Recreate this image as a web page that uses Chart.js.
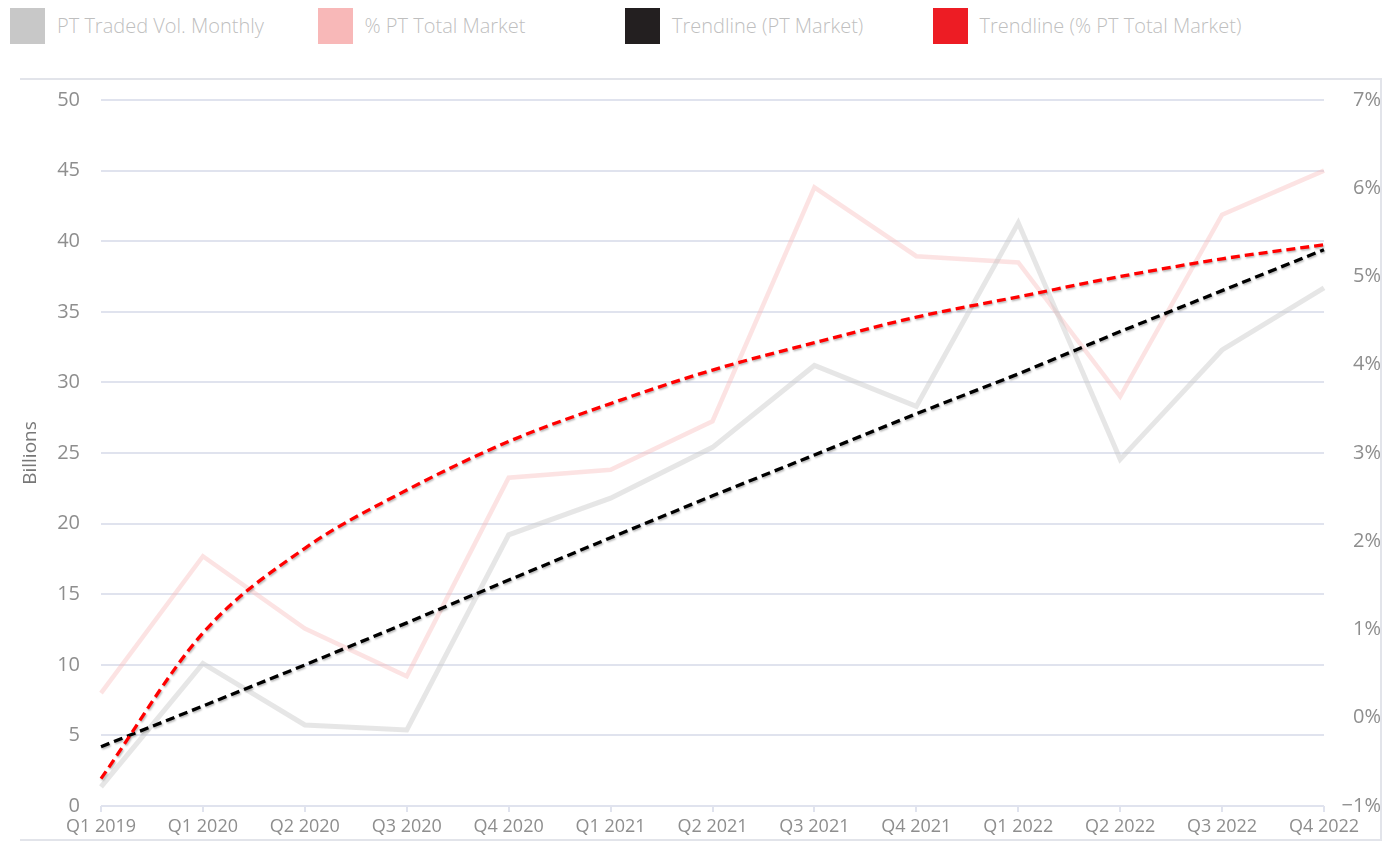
<!DOCTYPE html>
<html>
<head>
<meta charset="utf-8">
<script src="https://cdn.jsdelivr.net/npm/chart.js@4.4.1/dist/chart.umd.min.js"></script>
<style>
  html, body { margin: 0; padding: 0; background: #fff; }
  body { width: 1399px; height: 841px; position: relative; overflow: hidden; font-family: "Open Sans", "Noto Sans", sans-serif; }
  #frame { position: absolute; left: 20px; top: 78px; width: 1360px; height: 759px;
           border-top: 2px solid #e2e4ea; border-right: 2px solid #e2e4ea; border-bottom: 2px solid #e2e4ea; }
  #legend { position: absolute; left: 0; top: 0; width: 1399px; height: 60px; }
  .item { position: absolute; top: 8px; height: 36px; }
  .box { position: absolute; left: 0; top: 0; width: 35px; height: 36px; }
  .txt { position: absolute; left: 47px; top: 0; line-height: 36px; font-size: 20px; font-weight: 300;
         color: #bfbfbf; white-space: nowrap; }
  #wrap { position: absolute; left: 0; top: 0; width: 1386px; height: 841px; }
</style>
</head>
<body>
<div id="frame"></div>
<div id="legend"></div>
<div id="wrap"><canvas id="chart"></canvas></div>
<script>
// categories
const quarters = ['Q1 2019', 'Q1 2020', 'Q2 2020', 'Q3 2020', 'Q4 2020', 'Q1 2021', 'Q2 2021',
                  'Q3 2021', 'Q4 2021', 'Q1 2022', 'Q2 2022', 'Q3 2022', 'Q4 2022'];

// PT traded volume, billions (left axis)
const ptVolume = [1.36, 10.1, 5.74, 5.38, 19.2, 21.8, 25.4, 31.2, 28.3, 41.3, 24.55, 32.3, 36.7];
// % of total market (right axis)
const ptShare = [0.28, 1.83, 1.01, 0.47, 2.72, 2.81, 3.36, 6.01, 5.23, 5.16, 3.64, 5.70, 6.20];
// trendline (billions)
const ptTrend = [4.2, 7.08, 9.99, 12.97, 16.0, 19.0, 21.97, 24.86, 27.78, 30.6, 33.6, 36.5, 39.4];
// trendline (%)
const shareTrend = [-0.69, 0.96, 1.92, 2.58, 3.13, 3.56, 3.94, 4.25, 4.54, 4.77, 5.0, 5.2, 5.36];

// axis ticks
const leftTicks = [0, 5, 10, 15, 20, 25, 30, 35, 40, 45, 50];
const rightTicks = [-1, 0, 1, 2, 3, 4, 5, 6, 7];

const seriesLabels = ['PT Traded Vol. Monthly', '% PT Total Market', 'Trendline (PT Market)', 'Trendline (% PT Total Market)'];
const legendColors = ['#c8c8c8', '#f8b8b8', '#231f20', '#ed1c24'];

// html legend, evenly spaced like the original
const legendEl = document.getElementById('legend');
seriesLabels.forEach((label, i) => {
    const item = document.createElement('div');
    item.className = 'item';
    item.style.left = (10 + i * 307.5) + 'px';
    item.innerHTML = '<div class="box" style="background:' + legendColors[i] + '"></div><div class="txt"></div>';
    item.querySelector('.txt').textContent = label;
    legendEl.appendChild(item);
});

// soft shadow under the dashed trendlines
const shadowPlugin = {
    id: 'dashShadow',
    beforeDatasetDraw(chart, args) {
        if (chart.data.datasets[args.index].shadow) {
            const ctx = chart.ctx;
            ctx.save();
            ctx.shadowColor = 'rgba(0,0,0,0.28)';
            ctx.shadowBlur = 2;
            ctx.shadowOffsetX = 1;
            ctx.shadowOffsetY = 1.5;
        }
    },
    afterDatasetDraw(chart, args) {
        if (chart.data.datasets[args.index].shadow) chart.ctx.restore();
    }
};

const fontFamily = '"Open Sans", "Noto Sans", sans-serif';
const tickColor = '#8e8e8e';
const gridColor = '#e0e3ee';

const ctx = document.getElementById('chart').getContext('2d');
const chart = new Chart(ctx, {
    type: 'line',
    data: {
        labels: quarters,
        datasets: [
            {
                label: seriesLabels[3],
                data: shareTrend,
                yAxisID: 'y1',
                borderColor: '#ff0000',
                borderWidth: 3.3,
                borderDash: [9, 5],
                cubicInterpolationMode: 'monotone',
                pointRadius: 0,
                shadow: true,
                order: 1
            },
            {
                label: seriesLabels[2],
                data: ptTrend,
                yAxisID: 'y',
                borderColor: '#000000',
                borderWidth: 3.3,
                borderDash: [9, 5],
                pointRadius: 0,
                shadow: true,
                order: 2
            },
            {
                label: seriesLabels[0],
                data: ptVolume,
                yAxisID: 'y',
                borderColor: 'rgba(200,200,200,0.45)',
                borderWidth: 5,
                pointRadius: 0,
                tension: 0,
                order: 3
            },
            {
                label: seriesLabels[1],
                data: ptShare,
                yAxisID: 'y1',
                borderColor: 'rgba(248,184,184,0.4)',
                borderWidth: 4.5,
                pointRadius: 0,
                tension: 0,
                order: 4
            }
        ]
    },
    options: {
        responsive: true,
        maintainAspectRatio: false,
        animation: false,
        layout: { padding: { top: 100, right: 5, bottom: 0, left: 0 } },
        plugins: {
            legend: { display: false },
            tooltip: { enabled: false }
        },
        scales: {
            x: {
                offset: false,
                border: { display: false },
                grid: { drawOnChartArea: false, drawTicks: true, tickLength: 6, color: gridColor, lineWidth: 2 },
                ticks: { color: tickColor, font: { family: fontFamily, size: 18 }, maxRotation: 0, autoSkip: false, padding: 4 },
                afterFit(scale) { scale.height = 35; }
            },
            y: {
                position: 'left',
                min: leftTicks[0],
                max: leftTicks[leftTicks.length - 1],
                afterBuildTicks(scale) { scale.ticks = leftTicks.map(v => ({ value: v })); },
                border: { display: false },
                grid: { color: gridColor, lineWidth: 2, drawTicks: false },
                ticks: { color: tickColor, font: { family: fontFamily, size: 20 }, padding: 21 },
                title: {
                    display: true,
                    text: 'Billions',
                    color: '#777777',
                    font: { family: fontFamily, size: 19 },
                    padding: { top: 19, bottom: 0 }
                },
                afterFit(scale) { scale.width = 101; }
            },
            y1: {
                position: 'right',
                min: rightTicks[0],
                max: rightTicks[rightTicks.length - 1],
                afterBuildTicks(scale) { scale.ticks = rightTicks.map(v => ({ value: v })); },
                border: { display: false },
                grid: { display: false, drawTicks: false },
                ticks: {
                    color: tickColor,
                    font: { family: fontFamily, size: 20 },
                    crossAlign: 'far',
                    padding: 4,
                    callback: v => (v < 0 ? '\u2212' + Math.abs(v) : v) + '%'
                },
                afterFit(scale) { scale.width = 57; }
            }
        }
    },
    plugins: [shadowPlugin]
});
</script>
</body>
</html>
